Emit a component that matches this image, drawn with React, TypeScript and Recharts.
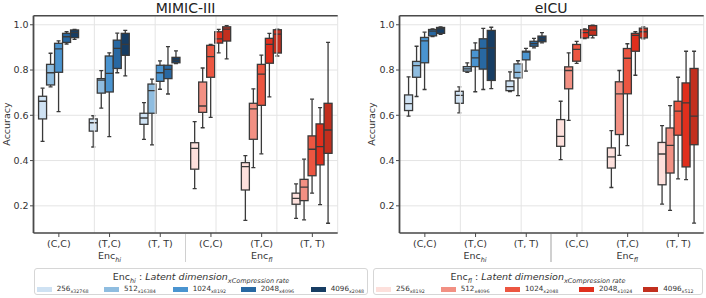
import React from "react";
import {
  ComposedChart,
  Bar,
  XAxis,
  YAxis,
  CartesianGrid,
  ReferenceLine,
} from "recharts";

const FONT = '"DejaVu Sans", sans-serif';

const CATEGORIES = ["(C,C)", "(T,C)", "(T, T)", "(C,C)", "(T,C)", "(T, T)"];
const LATENT_DIMS = ["256", "512", "1024", "2048", "4096"];
const HI_RATES = ["x32768", "x16384", "x8192", "x4096", "x2048"];
const FL_RATES = ["x8192", "x4096", "x2048", "x1024", "x512"];
const BLUES = ["#cfe2f3", "#8fbde0", "#4a94d0", "#2868a2", "#173d63"];
const REDS = ["#fde0dc", "#f29083", "#ec5641", "#e02f1d", "#c22f1e"];
const Y_TICKS = [0.2, 0.4, 0.6, 0.8, 1.0];
const GRID_X = [1, 2, 3, 4, 5];

// each box: [low whisker, q1, median, q3, high whisker], one per category
const MIMIC_256 = [
  [0.485, 0.584, 0.662, 0.684, 0.72],
  [0.46, 0.53, 0.567, 0.584, 0.598],
  [0.494, 0.56, 0.588, 0.609, 0.656],
  [0.276, 0.362, 0.454, 0.479, 0.572],
  [0.136, 0.27, 0.373, 0.391, 0.422],
  [0.145, 0.207, 0.233, 0.256, 0.297],
];
const MIMIC_512 = [
  [0.726, 0.734, 0.788, 0.825, 0.874],
  [0.632, 0.698, 0.755, 0.762, 0.797],
  [0.469, 0.609, 0.709, 0.738, 0.76],
  [0.545, 0.613, 0.641, 0.747, 0.809],
  [0.369, 0.494, 0.628, 0.653, 0.717],
  [0.138, 0.223, 0.283, 0.317, 0.406],
];
const MIMIC_1024 = [
  [0.616, 0.79, 0.893, 0.918, 0.929],
  [0.506, 0.703, 0.785, 0.862, 0.876],
  [0.715, 0.75, 0.788, 0.821, 0.84],
  [0.591, 0.768, 0.859, 0.909, 0.913],
  [0.43, 0.644, 0.782, 0.825, 0.866],
  [0.256, 0.333, 0.45, 0.509, 0.671],
];
const MIMIC_2048 = [
  [0.915, 0.922, 0.947, 0.962, 0.969],
  [0.788, 0.807, 0.896, 0.932, 0.963],
  [0.694, 0.762, 0.803, 0.821, 0.903],
  [0.876, 0.919, 0.938, 0.969, 0.98],
  [0.681, 0.83, 0.913, 0.94, 0.962],
  [0.205, 0.381, 0.462, 0.562, 0.634],
];
const MIMIC_4096 = [
  [0.935, 0.943, 0.965, 0.977, 0.98],
  [0.774, 0.865, 0.913, 0.962, 0.975],
  [0.828, 0.832, 0.844, 0.856, 0.885],
  [0.849, 0.928, 0.981, 0.991, 0.996],
  [0.862, 0.875, 0.959, 0.978, 0.981],
  [0.123, 0.432, 0.535, 0.653, 0.922],
];

const EICU_256 = [
  [0.596, 0.621, 0.652, 0.69, 0.77],
  [0.611, 0.653, 0.688, 0.706, 0.726],
  [0.705, 0.709, 0.727, 0.752, 0.792],
  [0.404, 0.463, 0.507, 0.581, 0.662],
  [0.281, 0.367, 0.416, 0.456, 0.532],
  [0.208, 0.293, 0.429, 0.48, 0.554],
];
const EICU_512 = [
  [0.683, 0.768, 0.819, 0.838, 0.905],
  [0.79, 0.795, 0.805, 0.815, 0.832],
  [0.687, 0.765, 0.79, 0.827, 0.841],
  [0.578, 0.717, 0.798, 0.814, 0.876],
  [0.423, 0.515, 0.695, 0.748, 0.798],
  [0.18, 0.345, 0.467, 0.544, 0.643],
];
const EICU_1024 = [
  [0.714, 0.832, 0.929, 0.944, 0.967],
  [0.704, 0.815, 0.854, 0.888, 0.92],
  [0.795, 0.845, 0.879, 0.883, 0.896],
  [0.829, 0.839, 0.891, 0.913, 0.927],
  [0.466, 0.695, 0.852, 0.895, 0.916],
  [0.319, 0.512, 0.618, 0.662, 0.768],
];
const EICU_2048 = [
  [0.948, 0.951, 0.972, 0.979, 0.982],
  [0.714, 0.804, 0.896, 0.938, 0.984],
  [0.898, 0.905, 0.917, 0.927, 0.94],
  [0.939, 0.942, 0.965, 0.978, 0.982],
  [0.777, 0.883, 0.953, 0.962, 0.969],
  [0.316, 0.372, 0.655, 0.743, 0.883],
];
const EICU_4096 = [
  [0.958, 0.962, 0.982, 0.988, 0.991],
  [0.718, 0.754, 0.898, 0.975, 0.989],
  [0.92, 0.925, 0.938, 0.95, 0.965],
  [0.942, 0.953, 0.976, 0.996, 0.998],
  [0.938, 0.942, 0.969, 0.985, 0.991],
  [0.124, 0.47, 0.596, 0.807, 0.883],
];

const MIMIC = [MIMIC_256, MIMIC_512, MIMIC_1024, MIMIC_2048, MIMIC_4096];
const EICU = [EICU_256, EICU_512, EICU_1024, EICU_2048, EICU_4096];

function buildRows(series: number[][][]) {
  return CATEGORIES.map((_, c) => {
    const row: any = { id: c };
    series.forEach((s, h) => {
      row[`r${h}`] = [s[c][0], s[c][4]];
      row[`s${h}`] = s[c];
    });
    return row;
  });
}

const EDGE = "#3a3a3a";
const SPINE = "#4a4a4a";
const GRID = "#e4e4e4";

// box drawn inside the range bar [low, high]; inner stats interpolated on its span
function makeBoxShape(h: number) {
  return (props: any) => {
    const { x, y, width, height, payload } = props;
    const st = payload[`s${h}`];
    if (!st) return <g />;
    const top = Math.min(y, y + height);
    const span = Math.abs(height);
    const lo = st[0];
    const hi = st[4];
    const py = (v: number) => (hi === lo ? top : top + ((hi - v) / (hi - lo)) * span);
    const color = payload.id < 3 ? BLUES[h] : REDS[h];
    const cx = x + width / 2;
    const cap = width * 0.25;
    const lineProps = { stroke: EDGE, strokeWidth: 1.3 };
    return (
      <g>
        <line x1={cx} x2={cx} y1={py(hi)} y2={py(st[3])} {...lineProps} />
        <line x1={cx} x2={cx} y1={py(st[1])} y2={py(lo)} {...lineProps} />
        <line x1={cx - cap} x2={cx + cap} y1={py(hi)} y2={py(hi)} {...lineProps} />
        <line x1={cx - cap} x2={cx + cap} y1={py(lo)} y2={py(lo)} {...lineProps} />
        <rect
          x={x}
          y={py(st[3])}
          width={width}
          height={Math.max(0.5, py(st[1]) - py(st[3]))}
          fill={color}
          {...lineProps}
        />
        <line x1={x} x2={x + width} y1={py(st[2])} y2={py(st[2])} {...lineProps} />
      </g>
    );
  };
}

const SHAPES = LATENT_DIMS.map((_, h) => makeBoxShape(h));

const tickStyle = { fill: "#333", fontSize: 9.5, fontFamily: FONT };

function Panel({ series, left, title }: { series: number[][][]; left: number; title: string }) {
  const rows = buildRows(series);
  return (
    <div style={{ position: "absolute", left, top: 0, width: 350, height: 298 }}>
      <ComposedChart
        width={350}
        height={298}
        data={rows}
        margin={{ top: 15.7, right: 12.3, bottom: 45, left: 0 }}
        barCategoryGap="10%"
        barGap={0}
      >
        <XAxis xAxisId="num" type="number" domain={[0, 6]} ticks={GRID_X} hide />
        <CartesianGrid vertical={false} stroke={GRID} strokeWidth={1} />
        {GRID_X.map((g) => (
          <ReferenceLine key={g} x={g} xAxisId="num" stroke={GRID} strokeWidth={1} />
        ))}
        <XAxis
          dataKey="id"
          type="category"
          height={20}
          tickFormatter={(i: number) => CATEGORIES[i]}
          tick={tickStyle}
          tickSize={4}
          tickMargin={3}
          tickLine={{ stroke: SPINE }}
          axisLine={{ stroke: SPINE, strokeWidth: 1.6 }}
          interval={0}
        />
        <YAxis
          type="number"
          domain={[0.08, 1.04]}
          ticks={Y_TICKS}
          width={33.5}
          tickFormatter={(v: number) => v.toFixed(1)}
          tick={tickStyle}
          tickSize={3.5}
          tickMargin={1.5}
          tickLine={{ stroke: SPINE }}
          axisLine={{ stroke: SPINE, strokeWidth: 1.8 }}
          allowDataOverflow
        />
        <ReferenceLine y={1.04} stroke={SPINE} strokeWidth={1.5} />
        <ReferenceLine x={6} xAxisId="num" stroke={SPINE} strokeWidth={1.5} />
        {LATENT_DIMS.map((d, h) => (
          <Bar
            key={d}
            dataKey={`r${h}`}
            shape={SHAPES[h]}
            isAnimationActive={false}
          />
        ))}
      </ComposedChart>
      <div
        style={{
          position: "absolute",
          left: 33.5,
          width: 304.2,
          top: 0,
          textAlign: "center",
          fontSize: 14,
          lineHeight: "16px",
          color: "#222",
          fontFamily: FONT,
        }}
      >
        {title}
      </div>
      <div
        style={{
          position: "absolute",
          left: 6.7 - 40,
          top: 124.4 - 7,
          width: 80,
          height: 14,
          lineHeight: "14px",
          textAlign: "center",
          transform: "rotate(-90deg)",
          fontSize: 9.5,
          color: "#333",
          fontFamily: FONT,
        }}
      >
        Accuracy
      </div>
      {[
        { cx: 33.5 + (304.2 / 6) * 1.5, sub: "hi" },
        { cx: 33.5 + (304.2 / 6) * 4.5, sub: "fl" },
      ].map((e) => (
        <div
          key={e.sub}
          style={{
            position: "absolute",
            left: e.cx - 40,
            width: 80,
            top: 249,
            lineHeight: "14px",
            textAlign: "center",
            fontSize: 9.5,
            color: "#333",
            fontFamily: FONT,
          }}
        >
          Enc<sub style={{ fontStyle: "italic", fontSize: 6.5, lineHeight: 0 }}>{e.sub}</sub>
        </div>
      ))}
      <div
        style={{
          position: "absolute",
          left: 33.5 + 304.2 / 2 - 0.8,
          top: 234,
          width: 1.6,
          height: 28,
          background: "#d0d0d0",
        }}
      />
    </div>
  );
}

function LegendBox({
  left,
  width,
  sub,
  rates,
  colors,
  swatchX,
}: {
  left: number;
  width: number;
  sub: string;
  rates: string[];
  colors: string[];
  swatchX: number[];
}) {
  return (
    <div
      style={{
        position: "absolute",
        left,
        top: 268,
        width,
        height: 27,
        boxSizing: "border-box",
        border: "1px solid #d6d6d6",
        borderRadius: 3,
        fontFamily: FONT,
        color: "#333",
      }}
    >
      <div
        style={{
          position: "absolute",
          left: 0,
          right: 0,
          top: 1,
          textAlign: "center",
          fontSize: 9.5,
          lineHeight: "14px",
          whiteSpace: "nowrap",
        }}
      >
        Enc<sub style={{ fontStyle: "italic", fontSize: 6.5, lineHeight: 0 }}>{sub}</sub>
        {" : "}
        <i>Latent dimension</i>
        <sub style={{ fontStyle: "italic", fontSize: 6.5, lineHeight: 0 }}>
          xCompression rate
        </sub>
      </div>
      {LATENT_DIMS.map((d, h) => (
        <div
          key={d}
          style={{
            position: "absolute",
            left: swatchX[h] - left - 1,
            top: 14,
            height: 12,
            display: "flex",
            alignItems: "center",
            whiteSpace: "nowrap",
          }}
        >
          <span style={{ width: 15, height: 5, background: colors[h], display: "inline-block" }} />
          <span style={{ marginLeft: 5, fontSize: 7.2, lineHeight: "12px" }}>
            {d}
            <sub style={{ fontSize: 4.8, lineHeight: 0 }}>{rates[h]}</sub>
          </span>
        </div>
      ))}
    </div>
  );
}

export default function App() {
  return (
    <div
      style={{
        position: "fixed",
        left: 0,
        top: 0,
        width: 706,
        height: 298,
        background: "#fff",
        overflow: "hidden",
      }}
    >
      <Panel series={MIMIC} left={0} title="MIMIC-III" />
      <Panel series={EICU} left={365.5} title="eICU" />
      <LegendBox
        left={34}
        width={334}
        sub="hi"
        rates={HI_RATES}
        colors={BLUES}
        swatchX={[36.7, 104, 172.7, 240.7, 310.7]}
      />
      <LegendBox
        left={373}
        width={330}
        sub="fl"
        rates={FL_RATES}
        colors={REDS}
        swatchX={[376, 440.7, 505, 579, 643.3]}
      />
    </div>
  );
}
